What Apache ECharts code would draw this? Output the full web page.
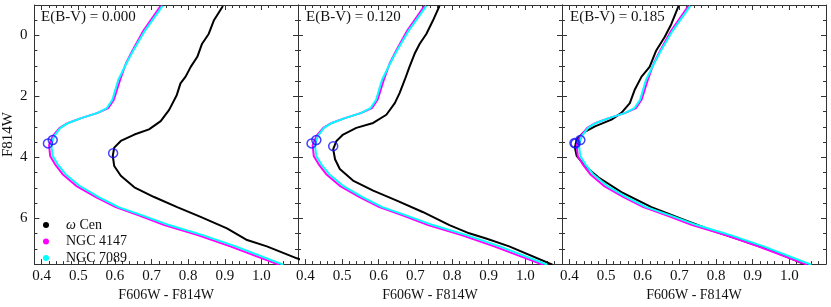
<!DOCTYPE html>
<html>
<head>
<meta charset="utf-8">
<script src="https://cdn.jsdelivr.net/npm/echarts@6/dist/echarts.min.js"></script>
<style>
html,body{margin:0;padding:0;background:#fff;}
#chart{width:831px;height:307px;}
</style>
</head>
<body>
<div id="chart"></div>
<script>
// ---------- data (F606W-F814W, F814W) ----------
const panelLabels = ['E(B-V) = 0.000', 'E(B-V) = 0.120', 'E(B-V) = 0.185'];
const seriesNames = ['ω Cen', 'NGC 4147', 'NGC 7089'];

const omegaCen_E000 = [
  [0.895,-0.97],[0.870,-0.49],[0.856,-0.05],[0.838,0.27],[0.825,0.70],[0.807,1.03],
  [0.793,1.35],[0.779,1.57],[0.769,1.95],[0.748,2.44],[0.725,2.81],[0.693,3.08],
  [0.653,3.25],[0.616,3.46],[0.598,3.68],[0.594,3.95],[0.598,4.28],[0.616,4.60],
  [0.653,4.98],[0.707,5.30],[0.770,5.63],[0.834,5.95],[0.906,6.33],[0.961,6.71],
  [1.015,6.92],[1.097,7.31],[1.130,7.45]
];
const omegaCen_E120 = [
  [0.766,-0.97],[0.748,-0.49],[0.730,-0.05],[0.712,0.27],[0.698,0.60],[0.684,1.03],
  [0.671,1.46],[0.657,1.89],[0.644,2.22],[0.621,2.60],[0.585,2.87],[0.539,3.03],
  [0.503,3.25],[0.485,3.46],[0.476,3.73],[0.481,4.06],[0.494,4.38],[0.530,4.76],
  [0.585,5.09],[0.648,5.41],[0.720,5.79],[0.793,6.22],[0.847,6.49],[0.893,6.66],
  [0.956,6.92],[1.074,7.52]
];
const omegaCen_E185 = [
  [0.698,-0.97],[0.678,-0.37],[0.660,0.05],[0.637,0.49],[0.619,1.03],[0.597,1.35],
  [0.578,1.79],[0.565,2.22],[0.542,2.54],[0.515,2.76],[0.470,2.98],[0.438,3.19],
  [0.420,3.41],[0.415,3.68],[0.420,3.95],[0.443,4.28],[0.479,4.65],[0.542,5.14],
  [0.624,5.63],[0.705,6.01],[0.787,6.39],[0.868,6.71],[0.959,7.09],[1.045,7.52]
];
const ngc4147 = [
  [0.725,-0.97],[0.678,-0.16],[0.648,0.49],[0.630,0.92],[0.614,1.46],[0.597,2.11],
  [0.582,2.38],[0.553,2.54],[0.508,2.71],[0.472,2.87],[0.449,3.03],[0.430,3.30],
  [0.420,3.60],[0.423,3.95],[0.436,4.22],[0.457,4.55],[0.494,4.93],[0.548,5.30],
  [0.602,5.63],[0.665,5.90],[0.735,6.22],[0.826,6.55],[0.915,6.92],[1.048,7.52]
];
const ngc7089 = [
  [0.730,-0.97],[0.682,-0.16],[0.650,0.49],[0.631,0.92],[0.609,1.46],[0.593,2.11],
  [0.578,2.38],[0.553,2.54],[0.508,2.71],[0.473,2.87],[0.451,3.03],[0.434,3.30],
  [0.426,3.60],[0.430,3.95],[0.443,4.22],[0.465,4.55],[0.503,4.93],[0.556,5.30],
  [0.610,5.63],[0.675,5.90],[0.748,6.22],[0.840,6.55],[0.930,6.92],[1.060,7.52]
];
// turn-off points: [omega Cen, NGC 4147, NGC 7089]
const turnoff_E000 = [[0.595,3.86],[0.417,3.54],[0.430,3.43]];
const turnoff_E120 = [[0.476,3.63],[0.417,3.54],[0.430,3.43]];
const turnoff_E185 = [[0.414,3.53],[0.417,3.54],[0.430,3.43]];

const xRange = [0.38, 1.10];
const yRange = [-1, 7.5];

// ---------- build ----------
const omegaSets = [omegaCen_E000, omegaCen_E120, omegaCen_E185];
const turnoffSets = [turnoff_E000, turnoff_E120, turnoff_E185];
const colors = ['#000000', '#ff00ff', '#00ffff'];
const FONT = '"Liberation Serif", "Times New Roman", serif';
const AX = '#333';

const panelLeft = [33, 298, 562];
const panelWidth = [265, 264, 264];

const grid = [], xAxis = [], yAxis = [], series = [], title = [];
for (let i = 0; i < 3; i++) {
  grid.push({left: panelLeft[i], top: 5, width: panelWidth[i], height: 262, containLabel: false});
  const xBase = {
    type: 'value', gridIndex: i, min: xRange[0], max: xRange[1], splitNumber: 7,
    axisLine: {show: true, onZero: false, lineStyle: {color: AX, width: 1}},
    axisTick: {show: true, inside: true, length: 5, lineStyle: {color: AX}},
    minorTick: {show: true, splitNumber: 5, length: 3, lineStyle: {color: AX}},
    splitLine: {show: false}
  };
  xAxis.push(Object.assign({}, xBase, {
    position: 'bottom',
    name: 'F606W - F814W', nameLocation: 'middle', nameGap: 22,
    nameTextStyle: {fontFamily: FONT, fontSize: 14, color: '#111'},
    axisLabel: {show: true, margin: 4, fontFamily: FONT, fontSize: 15, color: '#111',
      showMinLabel: false, showMaxLabel: false,
      formatter: v => v.toFixed(1)}
  }));
  xAxis.push(Object.assign({}, xBase, {position: 'top', axisLabel: {show: false}}));

  const yBase = {
    type: 'value', gridIndex: i, min: yRange[0], max: yRange[1], inverse: true, splitNumber: 4,
    axisLine: {show: true, onZero: false, lineStyle: {color: AX, width: 1}},
    axisTick: {show: true, inside: true, length: 5, lineStyle: {color: AX}},
    minorTick: {show: true, splitNumber: 4, length: 3, lineStyle: {color: AX}},
    splitLine: {show: false}
  };
  yAxis.push(Object.assign({}, yBase, {
    position: 'left',
    name: i === 0 ? 'F814W' : '', nameLocation: 'middle', nameGap: 16,
    nameTextStyle: {fontFamily: FONT, fontSize: 15, color: '#111'},
    axisLabel: {show: i === 0, margin: 7, fontFamily: FONT, fontSize: 15, color: '#111',
      showMinLabel: false, showMaxLabel: false}
  }));
  yAxis.push(Object.assign({}, yBase, {position: 'right', axisLabel: {show: false}}));

  const sets = [omegaSets[i], ngc4147, ngc7089];
  for (let k = 0; k < 3; k++) {
    series.push({
      type: 'line', name: seriesNames[k], xAxisIndex: 2 * i, yAxisIndex: 2 * i,
      data: sets[k], showSymbol: false, symbol: 'none', smooth: false,
      lineStyle: {color: colors[k], width: 2}, itemStyle: {color: colors[k]},
      z: 2 + k, silent: true, animation: false
    });
  }
  series.push({
    type: 'scatter', name: 'turnoff', xAxisIndex: 2 * i, yAxisIndex: 2 * i,
    data: turnoffSets[i], symbol: 'circle', symbolSize: 9,
    itemStyle: {color: 'rgba(0,0,0,0)', borderColor: '#1515ff', borderWidth: 1.5},
    z: 10, silent: true, animation: false
  });
  title.push({
    text: panelLabels[i], left: panelLeft[i] + 8, top: 10, padding: 0,
    textStyle: {fontFamily: FONT, fontSize: 15, fontWeight: 'normal', color: '#111'}
  });
}

const option = {
  backgroundColor: '#fff',
  animation: false,
  title: title,
  grid: grid,
  xAxis: xAxis,
  yAxis: yAxis,
  legend: {
    data: seriesNames, orient: 'vertical', left: 38, top: 213,
    icon: 'circle', itemWidth: 6, itemHeight: 6, itemGap: 2.5,
    selectedMode: false,
    textStyle: {fontFamily: FONT, fontSize: 14, color: '#111', padding: [0, 0, 0, 12],
      rich: {i: {fontFamily: FONT, fontSize: 14, fontStyle: 'italic', color: '#111'}}},
    formatter: function (n) { return n === 'ω Cen' ? '{i|ω} Cen' : n; }
  },
  series: series
};
const chart = echarts.init(document.getElementById('chart'), null, {renderer: 'canvas'});
chart.setOption(option);
</script>
</body>
</html>
